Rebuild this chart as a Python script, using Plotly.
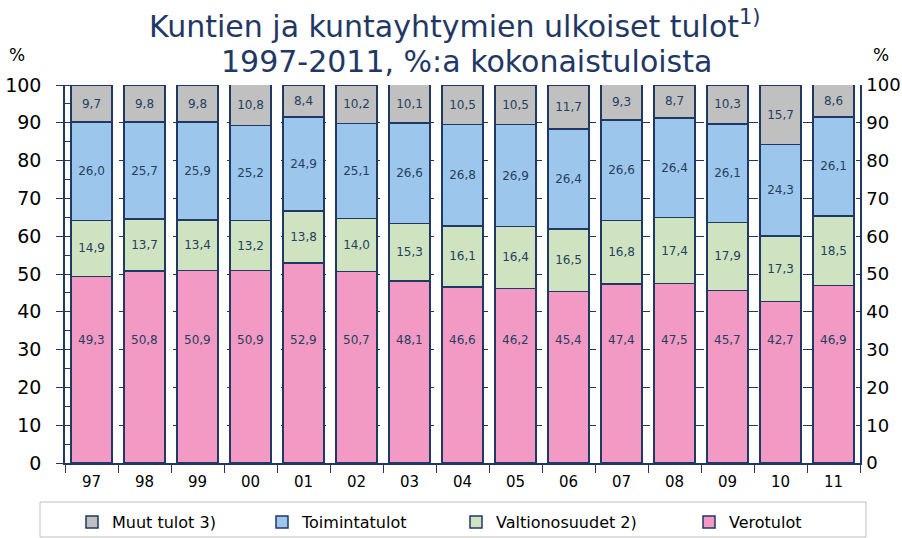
import plotly.graph_objects as go

years = ["97", "98", "99", "00", "01", "02", "03", "04", "05", "06", "07", "08", "09", "10", "11"]
verotulot = [49.3, 50.8, 50.9, 50.9, 52.9, 50.7, 48.1, 46.6, 46.2, 45.4, 47.4, 47.5, 45.7, 42.7, 46.9]
valtionosuudet = [14.9, 13.7, 13.4, 13.2, 13.8, 14.0, 15.3, 16.1, 16.4, 16.5, 16.8, 17.4, 17.9, 17.3, 18.5]
toimintatulot = [26.0, 25.7, 25.9, 25.2, 24.9, 25.1, 26.6, 26.8, 26.9, 26.4, 26.6, 26.4, 26.1, 24.3, 26.1]
muut_tulot = [9.7, 9.8, 9.8, 10.8, 8.4, 10.2, 10.1, 10.5, 10.5, 11.7, 9.3, 8.7, 10.3, 15.7, 8.6]
y_ticks = [0, 10, 20, 30, 40, 50, 60, 70, 80, 90, 100]

NAVY = "#1F3864"
LABEL = "#243F60"
FONT = "DejaVu Sans, Verdana, sans-serif"

W, H = 902, 538
ML, MR, MT, MB = 65, 42, 85, 75
PW, PH = W - ML - MR, H - MT - MB


def px_x(x):
    return (x - ML) / PW


def px_y(y):
    return (H - MB - y) / PH


def fi(v):
    return f"{v:.1f}".replace(".", ",")


# name, values, fill colour, legend id, legend text start (px)
series = [
    ("Verotulot", verotulot, "#F29AC3", "legend4", 725),
    ("Valtionosuudet 2)", valtionosuudet, "#D0E3C1", "legend3", 492),
    ("Toimintatulot", toimintatulot, "#9DC6EC", "legend2", 298),
    ("Muut tulot 3)", muut_tulot, "#C0C0C0", "legend", 108),
]

fig = go.Figure()
legend_layouts = {}
for name, vals, color, leg, text_x in series:
    show_text = name != "Verotulot"
    fig.add_trace(go.Bar(
        x=years, y=vals, name=name, legend=leg,
        marker=dict(color=color, line=dict(color=NAVY, width=1.5)),
        text=[fi(v) for v in vals] if show_text else None,
        textposition="inside" if show_text else "none",
        insidetextanchor="middle",
        textangle=0,
        textfont=dict(family=FONT, size=12, color=LABEL),
        hoverinfo="skip",
    ))
    legend_layouts[leg] = dict(
        orientation="h", x=px_x(text_x - 36), xanchor="left",
        y=px_y(505), yanchor="top", borderwidth=0, bgcolor="rgba(0,0,0,0)",
        font=dict(family=FONT, size=16, color="#000000"), itemwidth=30,
    )

# Tax-revenue labels sit at a common height inside the pink segments
for i, v in enumerate(verotulot):
    fig.add_annotation(x=i, y=32.5, xref="x", yref="y", text=fi(v), showarrow=False,
                       font=dict(family=FONT, size=12, color=LABEL))

# Invisible trace to drive the right-hand axis
fig.add_trace(go.Scatter(x=years, y=[None] * len(years), yaxis="y2",
                         showlegend=False, hoverinfo="skip"))

fig.update_layout(
    barmode="stack",
    bargap=0.235,
    width=W, height=H,
    margin=dict(l=ML, r=MR, t=MT, b=MB, autoexpand=False),
    paper_bgcolor="white", plot_bgcolor="white",
    xaxis=dict(
        type="category", tickson="boundaries", ticks="outside", ticklen=8,
        tickcolor=NAVY, showline=True, linecolor=NAVY, linewidth=1.5,
        tickfont=dict(family=FONT, size=15, color="#000000"), showgrid=False,
        range=[-0.5, 14.5], automargin=False, ticklabelstandoff=4,
    ),
    yaxis=dict(
        range=[0, 100], tickvals=y_ticks, ticks="outside", ticklen=7, tickcolor=NAVY,
        showline=True, linecolor=NAVY, linewidth=1.5,
        showgrid=True, gridcolor=NAVY, griddash="dash", gridwidth=1,
        minor=dict(dtick=5, ticks="inside", ticklen=5, tickcolor=NAVY, showgrid=False),
        tickfont=dict(family=FONT, size=19, color="#000000"),
        zeroline=False, automargin=False, ticklabelstandoff=11,
    ),
    yaxis2=dict(
        range=[0, 100], tickvals=y_ticks, overlaying="y", side="right",
        ticks="inside", ticklen=4, tickcolor=NAVY,
        showline=True, linecolor=NAVY, linewidth=1.5, showgrid=False,
        tickfont=dict(family=FONT, size=18, color="#000000"),
        zeroline=False, automargin=False, ticklabelstandoff=1,
    ),
    shapes=[dict(
        type="rect", xref="paper", yref="paper",
        x0=px_x(40), x1=px_x(866), y0=px_y(537), y1=px_y(502),
        line=dict(color="#BFBFBF", width=1), fillcolor="rgba(0,0,0,0)", layer="below",
    )],
    **legend_layouts,
)

# Two-line title
title_font = dict(family=FONT, size=30, color=NAVY)
fig.add_annotation(x=px_x(455), y=px_y(25), xref="paper", yref="paper", showarrow=False,
                   text="Kuntien ja kuntayhtymien ulkoiset tulot<sup>1)</sup>",
                   font=title_font, xanchor="center", yanchor="middle")
fig.add_annotation(x=px_x(466), y=px_y(62), xref="paper", yref="paper", showarrow=False,
                   text="1997-2011, %:a kokonaistuloista",
                   font=title_font, xanchor="center", yanchor="middle")

for xpos in (17, 881):
    fig.add_annotation(x=px_x(xpos), y=px_y(55), xref="paper", yref="paper", text="%",
                       showarrow=False, xanchor="center", yanchor="middle",
                       font=dict(family=FONT, size=17, color="#000000"))

fig.write_html("out.html")
